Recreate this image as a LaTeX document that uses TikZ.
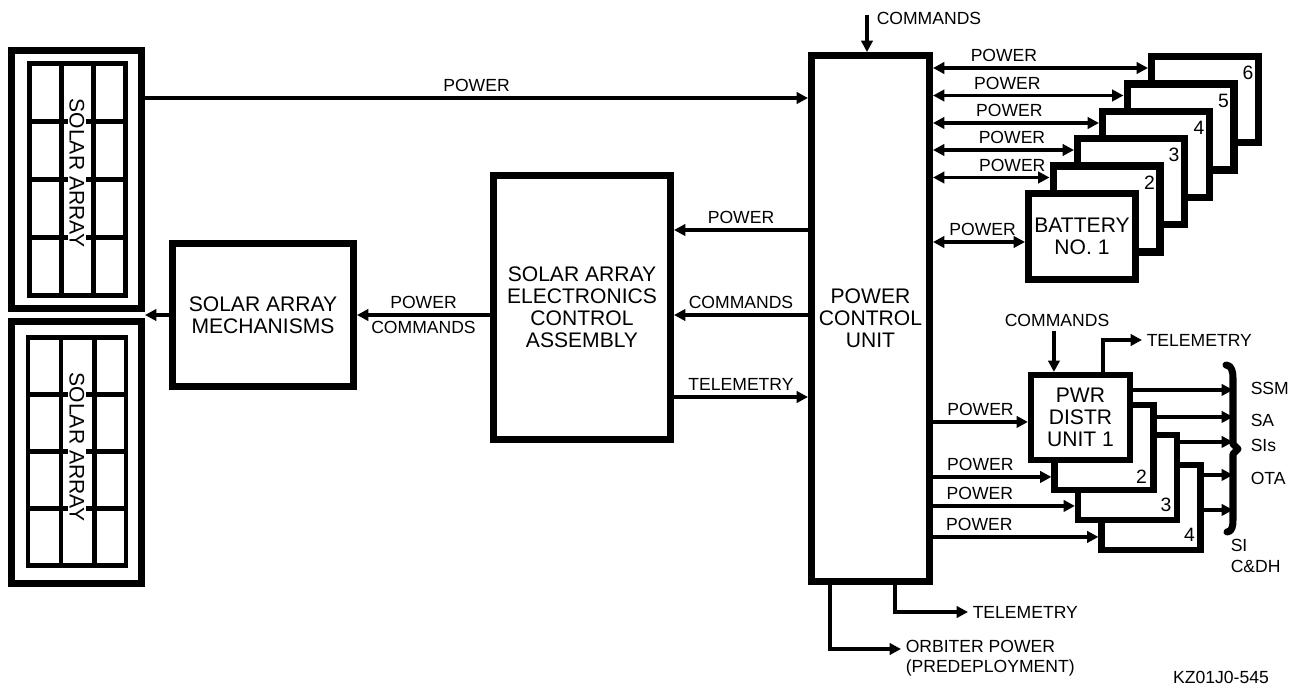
\documentclass[tikz,border=0pt]{standalone}
\usepackage{fontspec}
\setmainfont{Liberation Sans}
\usetikzlibrary{arrows.meta, calc}

\begin{document}
\begin{tikzpicture}[
  x=0.02cm, y=-0.02cm,
  lbl/.style={font=\fontsize{10}{11}\selectfont, inner sep=2.5pt},
  box/.style={draw, line width=4pt, fill=white, align=center, inner sep=0pt,
              font=\fontsize{12}{12.5}\selectfont},
  panel/.style={draw, line width=4pt},
  cell/.style={line width=2.6pt},
  satext/.style={rotate=-90, fill=white, inner sep=1pt,
                 font=\fontsize{12}{13}\selectfont},
  bat/.style={box, minimum width=2.14cm, minimum height=1.72cm},
  pdu/.style={box, line width=3.5pt, minimum width=1.98cm, minimum height=1.70cm},
  num/.style={font=\fontsize{11}{12}\selectfont, inner sep=0pt},
  arr/.style={-{Triangle[length=6.5pt, width=6.5pt]}, line width=2pt},
  dbl/.style={{Triangle[length=6.5pt, width=6.5pt]}-{Triangle[length=6.5pt, width=6.5pt]},
              line width=2pt},
  bus/.style={line width=4pt, line join=round, line cap=round},
]
\useasboundingbox (0,0) rectangle (1299,687);

% ============ SOLAR ARRAYS ============
\node[panel, minimum width=2.6cm, minimum height=5.16cm] (sa1) at (76.5,179.5) {};
\node[panel, minimum width=2.6cm, minimum height=5.24cm] (sa2) at (76.5,452.5) {};

\draw[cell] (29.5,63.5) rectangle (125.5,295.5)
  (61.5,63.5) -- (61.5,295.5) (93.5,63.5) -- (93.5,295.5)
  (29.5,121.5) -- (125.5,121.5) (29.5,179.5) -- (125.5,179.5)
  (29.5,237.5) -- (125.5,237.5);
\draw[cell] (28,337.5) rectangle (126,565.5)
  (61,337.5) -- (61,565.5) (94.5,337.5) -- (94.5,565.5)
  (28,394.5) -- (126,394.5) (28,451.5) -- (126,451.5)
  (28,508.5) -- (126,508.5);

\node[satext] (sat1) at (77,173) {SOLAR ARRAY};
\node[satext] (sat2) at (77,447) {SOLAR ARRAY};

% ============ MAIN BOXES ============
\node[box, minimum width=3.62cm, minimum height=2.86cm] (sam) at (263,315)
  {SOLAR ARRAY\\MECHANISMS};
\node[box, minimum width=3.54cm, minimum height=5.28cm] (saeca) at (582,307.5)
  {SOLAR ARRAY\\ELECTRONICS\\CONTROL\\ASSEMBLY};
\node[box, minimum width=2.36cm, minimum height=10.52cm] (pcu) at (870.5,318.5)
  {POWER\\CONTROL\\UNIT};

% Batteries (back to front)
\node[bat] (bat6) at (1205,99.5) {};
\node[bat] (bat5) at (1180.5,127) {};
\node[bat] (bat4) at (1156,154.5) {};
\node[bat] (bat3) at (1131,181.5) {};
\node[bat] (bat2) at (1106.5,209) {};
\node[bat] (bat1) at (1082,236.5) {BATTERY\\NO. 1};

% Power distribution units (back to front)
\node[pdu] (pdu4) at (1151,507.5) {};
\node[pdu] (pdu3) at (1127.5,477.5) {};
\node[pdu] (pdu2) at (1104,447.5) {};
\node[pdu] (pdu1) at (1080.5,417.5) {PWR\\DISTR\\UNIT 1};

% ============ ARROWS ============

% Solar array -> PCU
\coordinate (satop) at ($(sa1.east)+(0,-81.5)$);
\draw[arr] (satop) -- node[lbl, above] (lpw0) {POWER} (satop -| pcu.west);

% SAECA -> SAM -> solar array
\draw[arr] (sam.west) -- (sam.west -| sa1.east);
\draw[arr] (saeca.west |- sam.east) --
  node[lbl, above] (lpw1) {POWER}
  node[lbl, below] (lcm1) {COMMANDS} (sam.east);

% PCU <-> SAECA
\coordinate (eapw) at ($(saeca.east)+(0,-77.5)$);
\coordinate (eacm) at ($(saeca.east)+(0,7.5)$);
\coordinate (eatm) at ($(saeca.east)+(0,89.5)$);
\draw[arr] (eapw -| pcu.west) -- node[lbl, above] (lpw2) {POWER} (eapw);
\draw[arr] (eacm -| pcu.west) -- node[lbl, above] (lcm2) {COMMANDS} (eacm);
\draw[arr] (eatm) -- node[lbl, above] (ltm1) {TELEMETRY} (eatm -| pcu.west);

% Commands into PCU
\node[lbl, anchor=west] (lcm0) at (872,18) {COMMANDS};
\coordinate (pcuin) at ($(pcu.north)+(-3.5,0)$);
\draw[arr] ($(pcuin |- lcm0.center)+(0,-3)$) -- (pcuin);

% PCU <-> batteries
\coordinate (b6in) at ($(bat6.north west)+(0,15)$);
\coordinate (b5in) at ($(bat5.north west)+(0,15)$);
\coordinate (b4in) at ($(bat4.north west)+(0,15)$);
\coordinate (b3in) at ($(bat3.north west)+(0,15)$);
\coordinate (b2in) at ($(bat2.north west)+(0,15)$);
\coordinate (b1in) at ($(bat1.north west)+(0,52)$);
\draw[dbl] (b6in -| pcu.east) -- node[lbl, above, pos=0.33] (lpb6) {POWER} (b6in);
\draw[dbl] (b5in -| pcu.east) -- node[lbl, above, pos=0.39] (lpb5) {POWER} (b5in);
\draw[dbl] (b4in -| pcu.east) -- node[lbl, above, pos=0.46] (lpb4) {POWER} (b4in);
\draw[dbl] (b3in -| pcu.east) -- node[lbl, above, pos=0.56] (lpb3) {POWER} (b3in);
\draw[dbl] (b2in -| pcu.east) -- node[lbl, above, pos=0.68] (lpb2) {POWER} (b2in);
\draw[dbl] (b1in -| pcu.east) -- node[lbl, above, pos=0.54] (lpb1) {POWER} (b1in);

% PCU -> PDUs
\coordinate (p1in) at ($(pdu1.north west)+(0,50)$);
\coordinate (p2in) at ($(pdu2.north west)+(0,75)$);
\coordinate (p3in) at ($(pdu3.north west)+(0,74)$);
\coordinate (p4in) at ($(pdu4.north west)+(0,75)$);
\draw[arr] (p1in -| pcu.east) -- node[lbl, above] (lpp1) {POWER} (p1in);
\draw[arr] (p2in -| pcu.east) -- node[lbl, above, pos=0.4] (lpp2) {POWER} (p2in);
\draw[arr] (p3in -| pcu.east) -- node[lbl, above, pos=0.33] (lpp3) {POWER} (p3in);
\draw[arr] (p4in -| pcu.east) -- node[lbl, above, pos=0.28] (lpp4) {POWER} (p4in);

% PDU 1 commands / telemetry
\node[lbl] (lcm3) at (1057,320) {COMMANDS};
\coordinate (p1cm) at ($(pdu1.north west)+(26,0)$);
\draw[arr] (lcm3.south -| p1cm) -- (p1cm);
\node[lbl, anchor=west] (ltm2) at (1142,340) {TELEMETRY};
\coordinate (p1tm) at ($(pdu1.north west)+(75,0)$);
\draw[arr] (p1tm) |- (ltm2.west);

% PDU outputs -> loads
\coordinate (bustop) at (1233,370);
\coordinate (ossm) at ($(pdu1.north east)+(0,18)$);
\coordinate (osa)  at ($(pdu2.north east)+(0,15)$);
\coordinate (osis) at ($(pdu3.north east)+(0,10)$);
\coordinate (oota) at ($(pdu4.north east)+(0,13)$);
\coordinate (ocdh) at ($(pdu4.north east)+(0,48)$);
\draw[arr] (ossm) -- (ossm -| bustop);
\draw[arr] (osa)  -- (osa -| bustop);
\draw[arr] (osis) -- (osis -| bustop);
\draw[arr] (oota) -- (oota -| bustop);
\draw[arr] (ocdh) -- (ocdh -| bustop);
\draw[bus] (1226,365) to[out=0, in=90] (1233,378) -- (1233,444)
  -- (1238,449) -- (1233,454) -- (1233,520) to[out=-90, in=0] (1227,532);

\node[lbl, anchor=west] (lssm) at (1246,388) {SSM};
\node[lbl, anchor=west] (lsa)  at (1246,420) {SA};
\node[lbl, anchor=west] (lsis) at (1246,445) {SIs};
\node[lbl, anchor=west] (lota) at (1246,478) {OTA};
\node[lbl, anchor=north west, align=left, font=\fontsize{10}{12.5}\selectfont]
  (lcdh) at (1226,534) {SI\\C\&DH};

% PCU bottom outputs
\coordinate (pcuo) at ($(pcu.south west)+(22,0)$);
\coordinate (pcut) at ($(pcu.south west)+(87,0)$);
\node[lbl, anchor=west] (ltm3) at (968,612) {TELEMETRY};
\node[lbl, anchor=west, align=left, font=\fontsize{10}{11.5}\selectfont]
  (lorb) at (901,658) {ORBITER POWER\\(PREDEPLOYMENT)};
\draw[arr] (pcut) |- (ltm3.west);
\draw[arr] (pcuo) |- ($(lorb.west)+(0,-9)$);

% ============ UNIT NUMBERS ============
\node[num] (n6) at ($(bat6.north east)+(-14,20)$) {6};
\node[num] (n5) at ($(bat5.north east)+(-14,20)$) {5};
\node[num] (n4) at ($(bat4.north east)+(-14,20)$) {4};
\node[num] (n3) at ($(bat3.north east)+(-14,20)$) {3};
\node[num] (n2) at ($(bat2.north east)+(-14,20)$) {2};
\node[num] (m2) at ($(pdu2.south east)+(-15,-16)$) {2};
\node[num] (m3) at ($(pdu3.south east)+(-14,-18)$) {3};
\node[num] (m4) at ($(pdu4.south east)+(-14,-18)$) {4};

% figure id
\node[lbl, anchor=south, font=\fontsize{10}{11}\selectfont] (figid) at (1221,688)
  {KZ01J0-545};

\end{tikzpicture}
\end{document}
